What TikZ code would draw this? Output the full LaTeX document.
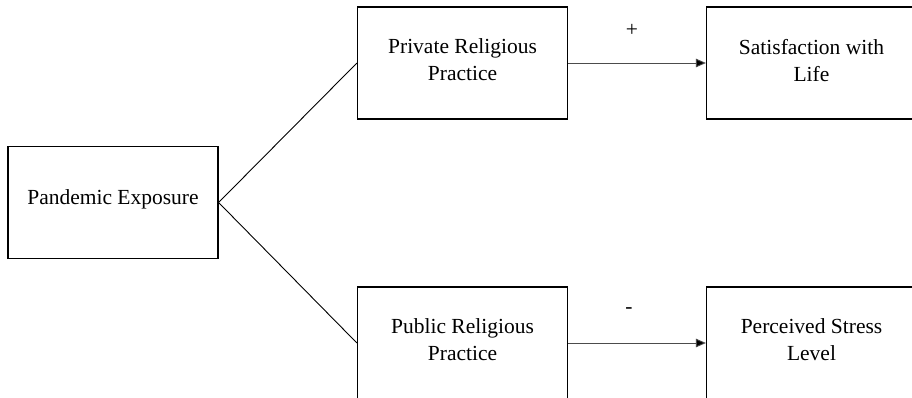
\documentclass[tikz,border=0pt]{standalone}
\usepackage{fontspec}
\setmainfont{Liberation Serif}
\usetikzlibrary{arrows.meta}
\begin{document}
\begin{tikzpicture}[x=1pt,y=-1pt,
  box/.style={draw=black,line width=1.2pt,minimum width=210pt,minimum height=112pt,
    align=center,font=\fontsize{21.5pt}{27pt}\selectfont,inner sep=0pt,text depth=6pt},
  link/.style={draw=black,line width=0.9pt},
  arr/.style={draw=black!70,line width=0.9pt,-{Triangle[length=10pt,width=8.5pt,fill=black]}},
  sign/.style={font=\fontsize{21.5pt}{27pt}\selectfont,inner sep=0pt}]
\useasboundingbox (0,0) rectangle (912,398);
\clip (0,0) rectangle (912,398);
\fill[white] (0,0) rectangle (912,398);
\node[box,text depth=10.7pt] (pe) at (113,202.5) {Pandemic Exposure};
\node[box] (prp) at (462.5,63) {Private Religious\\Practice};
\node[box] (swl) at (811.5,63) {Satisfaction with\\Life};
\node[box] (pub) at (462.5,343) {Public Religious\\Practice};
\node[box] (psl) at (811.5,343) {Perceived Stress\\Level};
\draw[link] (pe.east) -- (prp.west);
\draw[link] (pe.east) -- (pub.west);
\draw[arr] (prp.east) -- (swl.west);
\draw[arr] (pub.east) -- (psl.west);
\node[sign] (plus) at (632,30) {+};
\node[sign] (minus) at (629,311) {-};
\end{tikzpicture}
\end{document}
